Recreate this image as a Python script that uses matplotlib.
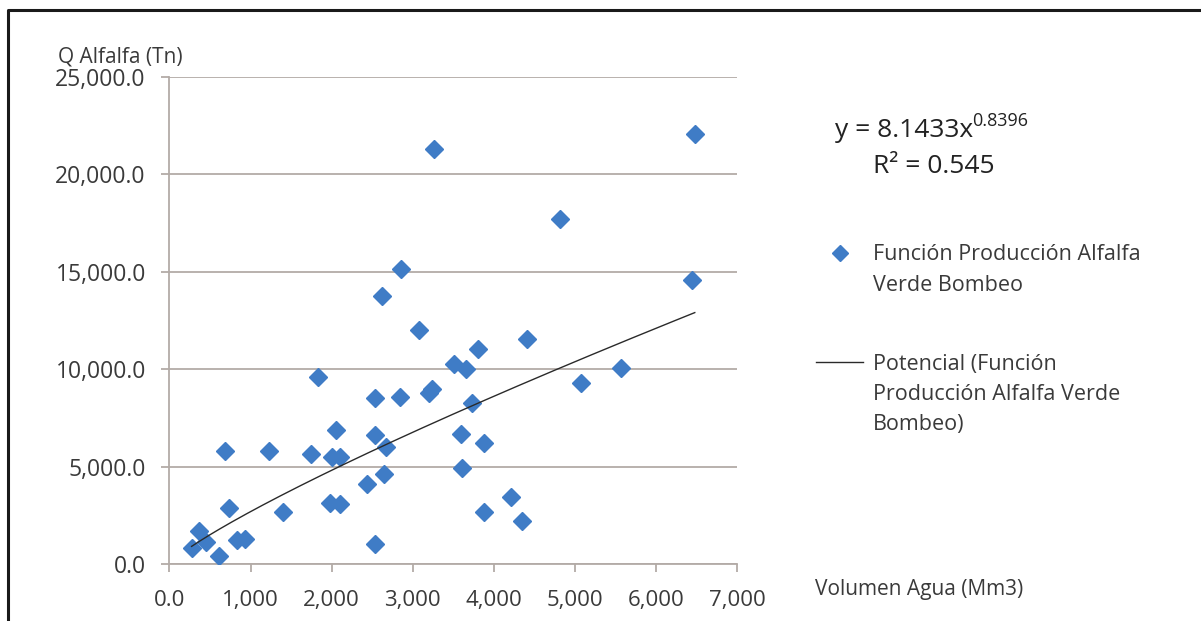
import matplotlib
matplotlib.use("Agg")
import matplotlib.pyplot as plt
import numpy as np
from matplotlib.lines import Line2D
from matplotlib.ticker import FuncFormatter

plt.rcParams['font.family'] = ['Open Sans', 'DejaVu Sans']

# volumen de agua (Mm3) y produccion de alfalfa (Tn)
volumen = [273, 363, 449, 609, 683, 732, 834, 929, 1228, 1400,
           1740, 1835, 1974, 2007, 2048, 2097, 2097, 2437, 2528, 2536,
           2536, 2626, 2642, 2671, 2843, 2856, 3081, 3204, 3237, 3266,
           3503, 3594, 3606, 3655, 3729, 3807, 3881, 3881, 4209, 4344,
           4413, 4812, 5070, 5562, 6443, 6476]
produccion = [806, 1710, 1146, 426, 5819, 2876, 1233, 1284, 5819, 2686,
              5650, 9620, 3117, 5480, 6882, 5480, 3066, 4109, 8541, 6610,
              1012, 13765, 4638, 6025, 8593, 15136, 12019, 8770, 8970, 21315,
              10254, 6677, 4947, 10000, 8284, 11043, 6230, 2686, 3457, 2224,
              11556, 17720, 9312, 10082, 14571, 22085]

# linea de tendencia potencial y = a * x^b
coef_a = 8.1433
coef_b = 0.8396
r2 = 0.545

x_ticks = [0, 1000, 2000, 3000, 4000, 5000, 6000, 7000]
y_ticks = [0, 5000, 10000, 15000, 20000, 25000]

serie_lbl = ['Función Producción Alfalfa', 'Verde Bombeo']
tend_lbl = ['Potencial (Función', 'Producción Alfalfa Verde', 'Bombeo)']

blue = '#3f7cc6'
grid_col = '#b3aba7'
text_col = '#3a3a3a'
W, H = 1201, 621

fig = plt.figure(figsize=(W / 100, H / 100), dpi=100)
ax = fig.add_axes([0.1411, 0.0918, 0.4728, 0.7842])

ax.set_xlim(0, 7000)
ax.set_ylim(0, 25000)
ax.set_xticks(x_ticks)
ax.set_yticks(y_ticks)
ax.xaxis.set_major_formatter(FuncFormatter(lambda v, p: '0.0' if v == 0 else f'{v:,.0f}'))
ax.yaxis.set_major_formatter(FuncFormatter(lambda v, p: f'{v:,.1f}'))

ax.grid(axis='y', color=grid_col, linewidth=1.3)
ax.set_axisbelow(True)
for side in ['top', 'right']:
    ax.spines[side].set_visible(False)
for side in ['left', 'bottom']:
    ax.spines[side].set_color(grid_col)
    ax.spines[side].set_linewidth(1.3)
ax.tick_params(axis='y', length=6, width=1.3, color=grid_col, labelsize=16.5, labelcolor=text_col, pad=11)
ax.tick_params(axis='x', length=6, width=1.3, color=grid_col, labelsize=16, labelcolor=text_col, pad=13)

ax.plot(volumen, produccion, linestyle='none', marker='D', markersize=9,
        color=blue, markeredgecolor=blue, zorder=3)

xs = np.linspace(min(volumen), max(volumen), 200)
ax.plot(xs, coef_a * xs ** coef_b, color='#2a2a2a', linewidth=1.0, zorder=4)

fig.text(58 / W, 1 - 62 / H, 'Q Alfalfa (Tn)', fontsize=15, color=text_col, va='baseline')
fig.text(815 / W, 1 - 595 / H, 'Volumen Agua (Mm3)', fontsize=15, color=text_col, va='baseline')

eq = fig.text(835 / W, 1 - 137 / H, f'y = {coef_a}x', fontsize=19, color='#222222', va='baseline')
fig.canvas.draw()
x1 = eq.get_window_extent().x1
fig.text((x1 - 1) / W, 1 - 126 / H, f'{coef_b}', fontsize=13, color='#222222', va='baseline')
fig.text(873 / W, 1 - 173 / H, f'R² = {r2}', fontsize=19, color='#222222', va='baseline')

# leyenda
fig.add_artist(Line2D([840 / W], [1 - 253 / H], marker='D', markersize=8, color=blue,
                      transform=fig.transFigure))
for i, s in enumerate(serie_lbl):
    fig.text(873 / W, 1 - (260 + 31 * i) / H, s, fontsize=15.5, color=text_col, va='baseline')
fig.add_artist(Line2D([816 / W, 863 / W], [1 - 362 / H, 1 - 362 / H], color='#2a2a2a',
                      linewidth=1.0, transform=fig.transFigure))
for i, s in enumerate(tend_lbl):
    fig.text(873 / W, 1 - (370 + 30 * i) / H, s, fontsize=15.5, color=text_col, va='baseline')

# marco del recorte
fig.add_artist(Line2D([0.007, 0.007, 1.0], [0.0, 0.984, 0.984], color='#1a1a1a',
                      linewidth=2.2, transform=fig.transFigure))

fig.savefig('out.png', dpi=100)
